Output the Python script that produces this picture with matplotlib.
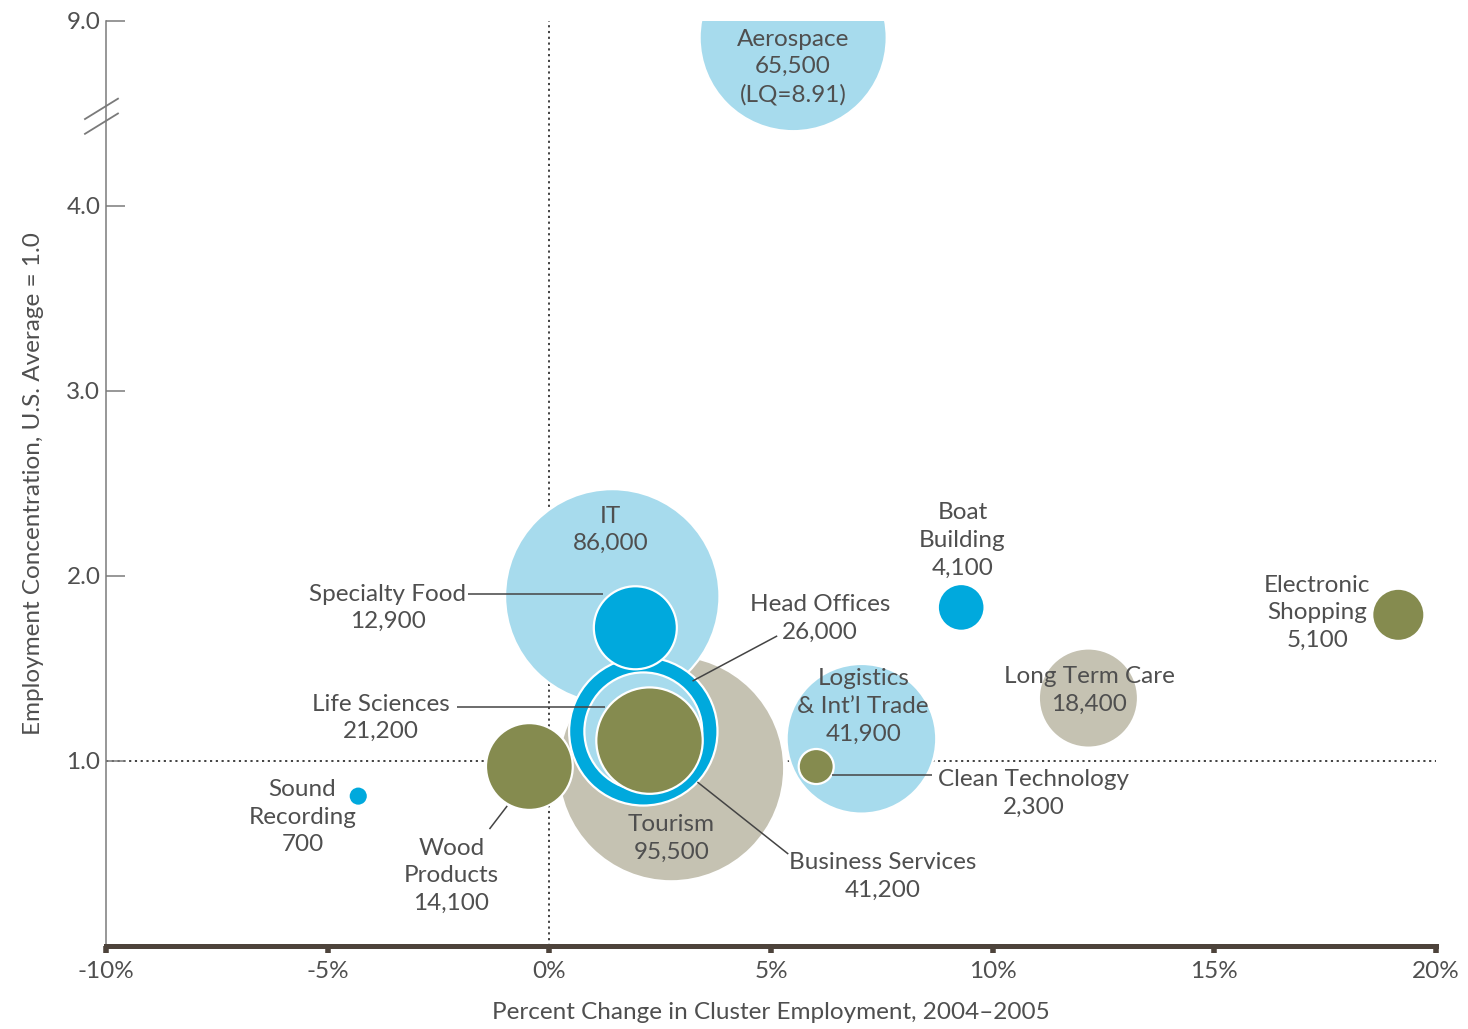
import matplotlib
matplotlib.use("Agg")
import matplotlib.pyplot as plt
from matplotlib.transforms import blended_transform_factory

# ---- cluster data -------------------------------------------------------
clusters = ["Aerospace", "Tourism", "IT", "Business Services", "Head Offices",
            "Specialty Food", "Life Sciences", "Wood Products", "Sound Recording",
            "Logistics & Int\u2019l Trade", "Clean Technology", "Long Term Care",
            "Boat Building", "Electronic Shopping"]
pct_change = [5.50, 2.75, 1.42, 2.12, 2.12, 1.94, 2.26, -0.45, -4.31,
              7.04, 6.02, 12.16, 9.29, 19.15]
location_quotient = [8.91, 0.96, 1.89, 1.16, 1.16, 1.72, 1.11, 0.97, 0.81,
                     1.12, 0.97, 1.34, 1.83, 1.79]
employment = [65500, 95500, 86000, 41200, 26000, 12900, 21200, 14100, 700,
              41900, 2300, 18400, 4100, 5100]
cluster_type = ["light", "gray", "light", "bright", "light", "bright", "olive",
                "olive", "bright", "light", "olive", "gray", "bright", "olive"]

x_ticks = [-10, -5, 0, 5, 10, 15, 20]
y_ticks = [1.0, 2.0, 3.0, 4.0, 9.0]

# ---- styling ------------------------------------------------------------
palette = {"light": "#a7dbed", "bright": "#00a9dd",
           "olive": "#858b4f", "gray": "#c5c2b2"}
text_color = "#4f4f4f"
SIZE_SCALE = 0.277          # marker area (pt^2) per employee
BREAK_AT, BREAK_SHIFT = 4.5, 4.0

def y_axis(v):
    """Map a location quotient onto the broken y axis."""
    return v - BREAK_SHIFT if v > BREAK_AT else v

plt.rcParams["font.family"] = ["Lato", "DejaVu Sans"]

fig = plt.figure(figsize=(14.68, 10.29), dpi=100)
ax = fig.add_axes([0.0722, 0.0807, 0.9060, 0.8989])
ax.set_xlim(-10, 20)
ax.set_ylim(0, 5.0)

# reference lines at 0% growth and the U.S. average
ax.axvline(0, color="#333333", lw=1.3, ls=(0, (1.2, 2.0)), zorder=1)
ax.axhline(1.0, color="#333333", lw=1.3, ls=(0, (1.2, 2.0)), zorder=1)

ax.scatter(pct_change, [y_axis(v) for v in location_quotient],
           s=[e * SIZE_SCALE for e in employment],
           c=[palette[t] for t in cluster_type],
           edgecolors="white", linewidths=1.6, zorder=2)

# ---- labels -------------------------------------------------------------
label_names = {
    "Sound Recording": "Sound\nRecording",
    "Wood Products": "Wood\nProducts",
    "Logistics & Int\u2019l Trade": "Logistics\n& Int\u2019l Trade",
    "Boat Building": "Boat\nBuilding",
    "Electronic Shopping": "Electronic\nShopping",
}
label_pos = {
    "Aerospace": (5.50, 4.751),
    "IT": (1.38, 2.249),
    "Specialty Food": (-3.65, 1.827),
    "Head Offices": (6.11, 1.770),
    "Life Sciences": (-3.81, 1.232),
    "Sound Recording": (-5.57, 0.695),
    "Wood Products": (-2.21, 0.381),
    "Tourism": (2.75, 0.581),
    "Business Services": (7.53, 0.376),
    "Logistics & Int\u2019l Trade": (7.08, 1.295),
    "Clean Technology": (10.92, 0.824),
    "Long Term Care": (12.18, 1.381),
    "Boat Building": (9.32, 2.192),
    "Electronic Shopping": (17.32, 1.800),
}
leaders = {
    "Specialty Food": ((-1.83, 1.903), (1.20, 1.903)),
    "Head Offices": ((5.14, 1.676), (3.23, 1.432)),
    "Life Sciences": ((-2.08, 1.292), (1.26, 1.292)),
    "Wood Products": ((-1.35, 0.632), (-0.95, 0.757)),
    "Business Services": ((5.39, 0.497), (3.34, 0.886)),
    "Clean Technology": ((6.38, 0.924), (8.64, 0.924)),
}

for name, emp, lq in zip(clusters, employment, location_quotient):
    text = f"{label_names.get(name, name)}\n{emp:,}"
    if lq > BREAK_AT:
        text += f"\n(LQ={lq:.2f})"
    x, y = label_pos[name]
    ax.text(x, y, text, ha="center", va="center", fontsize=17.5,
            color=text_color, linespacing=1.38, zorder=5)
    if name in leaders:
        (x0, y0), (x1, y1) = leaders[name]
        ax.plot([x0, x1], [y0, y1], color="#444444", lw=1.1, zorder=4,
                solid_capstyle="butt")

# ---- axes ---------------------------------------------------------------
for side in ("top", "right"):
    ax.spines[side].set_visible(False)
ax.spines["left"].set_color("#7a7a7a")
ax.spines["left"].set_linewidth(1.1)
ax.spines["bottom"].set_color("#4d433b")
ax.spines["bottom"].set_linewidth(3.6)
ax.spines["bottom"].set_zorder(6)

ax.set_xticks(x_ticks)
ax.set_xticklabels([f"{t}%" for t in x_ticks])
ax.set_yticks([y_axis(v) for v in y_ticks])
ax.set_yticklabels([f"{v:.1f}" for v in y_ticks])
ax.tick_params(axis="y", direction="in", length=14, width=1.1,
               color="#7a7a7a", pad=4, labelsize=17.5, labelcolor=text_color)
ax.tick_params(axis="x", direction="out", length=5, width=4,
               color="#4d433b", pad=6, labelsize=17.5, labelcolor=text_color)

ax.set_xlabel("Percent Change in Cluster Employment, 2004\u20132005",
              fontsize=17.5, color=text_color, labelpad=14)
ax.set_ylabel("Employment Concentration, U.S. Average = 1.0",
              fontsize=17.5, color=text_color, labelpad=16)

# axis break marks on the y axis
brk = blended_transform_factory(ax.transAxes, ax.transData)
for y0 in (4.47, 4.39):
    ax.plot([-0.0158, 0.0090], [y0, y0 + 0.11], color="#7a7a7a", lw=1.3,
            transform=brk, clip_on=False, zorder=6)

fig.savefig("out.png", dpi=100, facecolor="white")
